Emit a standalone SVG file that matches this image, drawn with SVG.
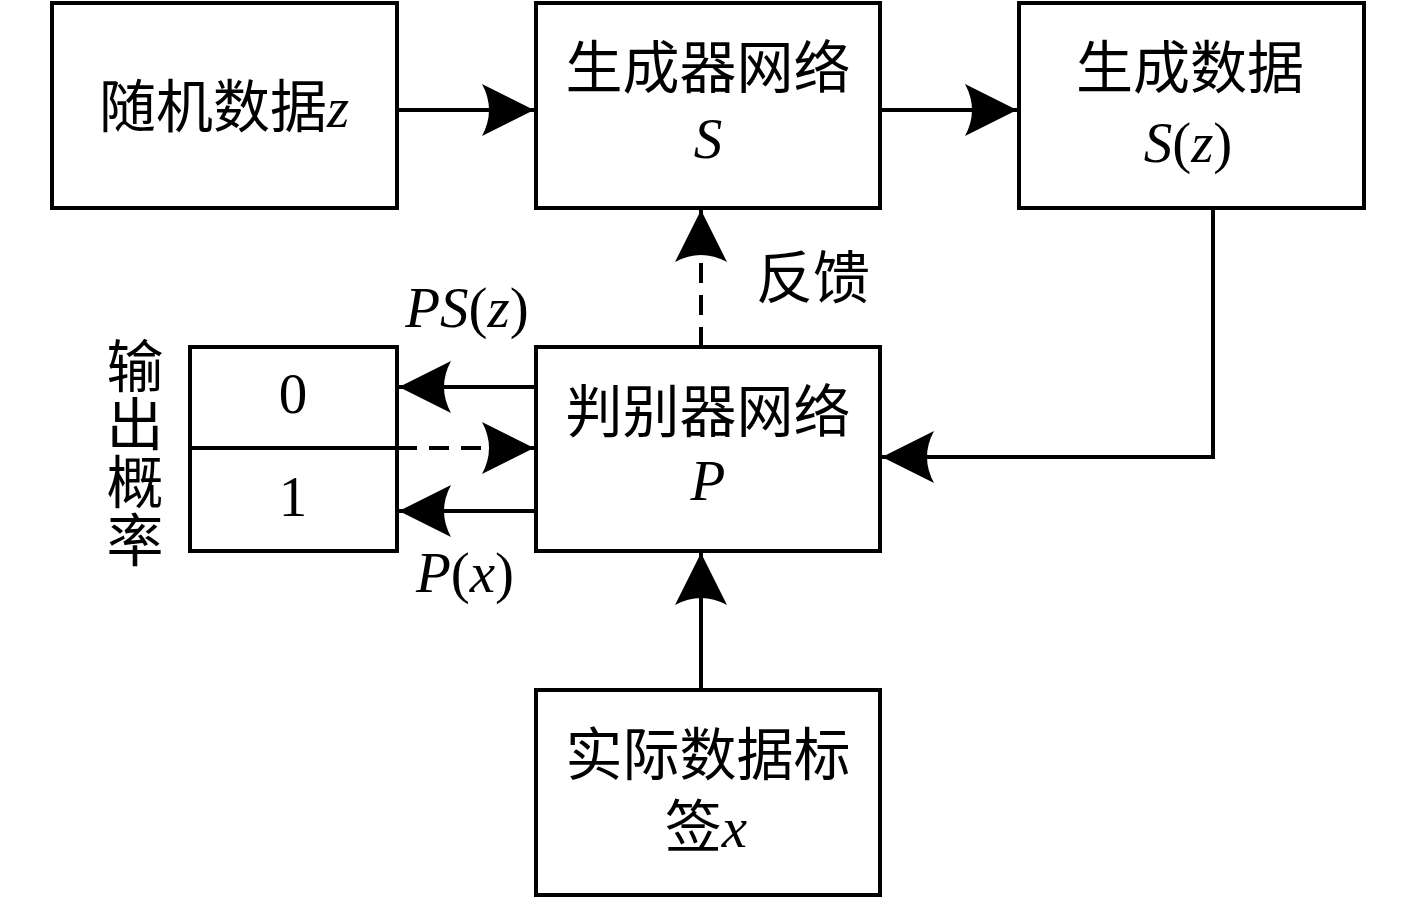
<svg xmlns="http://www.w3.org/2000/svg" width="1417" height="900" viewBox="0 0 1417 900">
<style>
.box{fill:#fff;stroke:#000;stroke-width:4}
.ln{fill:none;stroke:#000;stroke-width:4}
.dash{stroke-dasharray:20 12}
.t{font-family:"Liberation Serif","Noto Sans CJK SC",serif;font-size:57px;fill:#000;text-anchor:middle}
.i{font-style:italic}
</style>
<defs>
<marker id="ah" markerUnits="userSpaceOnUse" orient="auto" refX="0" refY="0" viewBox="-54 -28 56 56" markerWidth="56" markerHeight="56" overflow="visible">
<path d="M0,0 L-52,-26 Q-38,0 -52,26 Z" fill="#000"/>
</marker>
</defs>
<rect width="1417" height="900" fill="#fff"/>
<g id="connectors">
<line class="ln" x1="397" y1="110" x2="534" y2="110" marker-end="url(#ah)"/>
<line class="ln" x1="880" y1="110" x2="1017" y2="110" marker-end="url(#ah)"/>
<polyline class="ln" points="1213,208 1213,457 882,457" marker-end="url(#ah)"/>
<line class="ln dash" x1="701" y1="347" x2="701" y2="210" marker-end="url(#ah)"/>
<line class="ln" x1="536" y1="387" x2="399" y2="387" marker-end="url(#ah)"/>
<line class="ln dash" x1="397" y1="448" x2="534" y2="448" marker-end="url(#ah)"/>
<line class="ln" x1="536" y1="511" x2="399" y2="511" marker-end="url(#ah)"/>
<line class="ln" x1="701" y1="690" x2="701" y2="553" marker-end="url(#ah)"/>
</g>
<g id="random">
<rect class="box" x="52" y="3" width="345" height="205"/>
<text class="t" x="224" y="127">随机数据<tspan class="i">z</tspan></text>
</g>
<g id="generator">
<rect class="box" x="536" y="3" width="344" height="205"/>
<text class="t" x="708" y="88">生成器网络</text>
<text class="t i" x="708" y="158">S</text>
</g>
<g id="gendata">
<rect class="box" x="1019" y="3" width="345" height="205"/>
<text class="t" x="1190" y="88">生成数据</text>
<text class="t" x="1188" y="162"><tspan class="i">S</tspan>(<tspan class="i">z</tspan>)</text>
</g>
<g id="discriminator">
<rect class="box" x="536" y="347" width="344" height="204"/>
<text class="t" x="708" y="432">判别器网络</text>
<text class="t i" x="708" y="500">P</text>
</g>
<g id="real">
<rect class="box" x="536" y="690" width="344" height="205"/>
<text class="t" x="708" y="775">实际数据标</text>
<text class="t" x="706" y="847">签<tspan class="i">x</tspan></text>
</g>
<g id="output">
<rect class="box" x="190" y="347" width="207" height="204"/>
<line class="ln" x1="190" y1="448" x2="397" y2="448"/>
<text class="t" x="293" y="413">0</text>
<text class="t" x="293" y="516">1</text>
<text class="t" x="135" y="387">输</text>
<text class="t" x="135" y="445">出</text>
<text class="t" x="135" y="503">概</text>
<text class="t" x="135" y="561">率</text>
</g>
<g id="labels">
<text class="t" x="813" y="298">反馈</text>
<text class="t" x="467" y="327"><tspan class="i">PS</tspan>(<tspan class="i">z</tspan>)</text>
<text class="t" x="465" y="592"><tspan class="i">P</tspan>(<tspan class="i">x</tspan>)</text>
</g>
</svg>
